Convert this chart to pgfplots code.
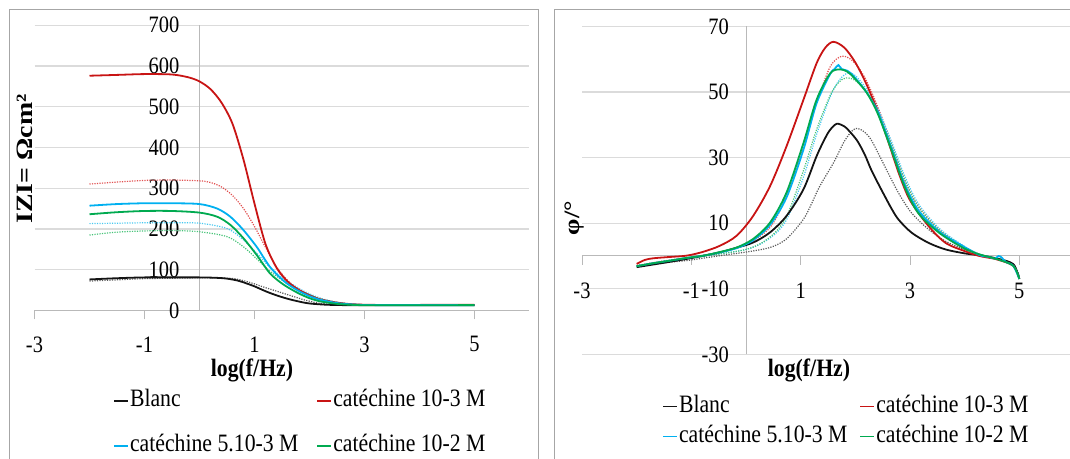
\documentclass[border=0pt]{standalone}
\usepackage{fontspec}
\setmainfont{Liberation Serif}[FakeStretch=0.87]
\newfontfamily\rotfont{Liberation Serif}[FakeStretch=1.19]
\usepackage{pgfplots}
\pgfplotsset{compat=1.18}
\definecolor{cBlk}{RGB}{20,20,20}
\definecolor{cRed}{RGB}{200,20,20}
\definecolor{cBlu}{RGB}{0,176,240}
\definecolor{cGrn}{RGB}{0,170,80}
\definecolor{cBlkD}{RGB}{90,90,90}
\definecolor{cRedD}{RGB}{225,80,80}
\definecolor{cBluD}{RGB}{70,200,240}
\definecolor{cGrnD}{RGB}{70,195,120}
\pgfplotsset{
 excelaxis/.style={
  scale only axis, axis lines=middle,
  axis line style={-, draw=gray!55, line width=1pt},
  xmin=-3, xmax=6, xtick={-3,-1,1,3,5},
  tick align=outside, major tick length=9pt,
  xtick style={draw=gray!55, line width=1pt},
  ytick style={draw=none},
  ymajorgrids, grid style={draw=gray!28, line width=1.2pt},
  hide obscured x ticks=false, hide obscured y ticks=false,
  /pgf/number format/assume math mode=true,
  /pgf/number format/1000 sep={},
  tick label style={font=\fontsize{23.5}{28}\selectfont, inner sep=0pt},
  legend columns=2,
  legend cell align=left,
  legend image code/.code={\draw[##1, solid, line width=1.8pt] (0pt,0pt) -- (14pt,0pt);},
  legend style={draw=none, fill=none, inner sep=0pt, font=\fontsize{25}{30}\selectfont,
    nodes={inner sep=1pt, text height=17pt, text depth=5pt}},
 },
 sol/.style={line width=1.8pt, smooth, tension=0.5},
 dot/.style={line width=1.2pt, dash pattern=on 1.2pt off 1.3pt, smooth, tension=0.5, forget plot},
}
\begin{document}
\begin{tikzpicture}[x=1pt,y=1pt]
\useasboundingbox (0,0) rectangle (1070,458);
\draw[gray!70, line width=1pt] (9.3,-5) -- (9.3,448) -- (538,448) -- (538,-5);
\draw[gray!70, line width=1pt] (554,-5) -- (554,448) -- (1090,448);

% ---------------- left: |Z| ----------------
\begin{axis}[excelaxis,
  at={(34.5pt,147.6pt)}, anchor=south west,
  width=495pt, height=285.2pt,
  ymin=0, ymax=700, ytick={0,100,...,700},
  xticklabel style={anchor=center, yshift=-25pt},
  yticklabel style={anchor=east, xshift=-11pt},
  legend style={at={(0.1586,-0.274)}, anchor=north west, row sep=21pt,
    /tikz/every even column/.append style={column sep=17pt}},
]
\addplot[dot, cBlkD] coordinates {(-2,72)(-1.5,75)(-1,78)(-0.5,79)(0,80)(0.3,80)(0.62,78)(0.8,73)(0.98,66)(1.15,58)(1.34,50)(1.5,43)(1.71,34)(1.9,26)(2.05,21)(2.2,17)(2.5,14)(2.8,13)(3.2,12.5)(5,13)};
\addplot[dot, cRedD] coordinates {(-2,310)(-1.5,315)(-1,319)(-0.5,320)(0,318)(0.2,314)(0.4,303)(0.6,282)(0.8,250)(1.0,206)(1.2,155)(1.4,107)(1.6,74)(1.8,52)(2.0,39)(2.2,28)(2.5,19)(2.8,15)(3.2,13.5)(5,14)};
\addplot[dot, cBluD] coordinates {(-2,213)(-1.5,214)(-1,215)(-0.5,215)(0,214)(0.5,201)(0.8,173)(1.1,132)(1.25,110)(1.41,91)(1.55,75)(1.71,62)(1.9,47)(2.1,35)(2.3,26)(2.6,18)(3,14)(5,13)};
\addplot[dot, cGrnD] coordinates {(-2,185)(-1.5,192)(-1,195)(-0.5,196)(0,193)(0.5,181)(0.8,156)(1.1,119)(1.25,100)(1.41,83)(1.55,70)(1.71,58)(1.9,44)(2.1,33)(2.3,25)(2.6,18)(3,14)(5,13)};
\addplot[sol, cBlk] coordinates {(-2,76)(-1.5,79)(-1,81)(-0.5,81)(0,81)(0.3,80)(0.5,78)(0.7,73)(0.86,66)(1.0,59)(1.22,46)(1.4,37)(1.59,29)(1.8,22)(2.0,17)(2.3,14)(2.6,13)(3,12.5)(4,12.5)(5,13)};
\addlegendentry{Blanc}
\addplot[sol, cRed] coordinates {(-2,576)(-1.5,578)(-1,580)(-0.5,579)(-0.2,572)(0,562)(0.2,543)(0.4,510)(0.6,458)(0.8,370)(1.0,262)(1.2,163)(1.4,105)(1.6,71)(1.8,51)(2.0,37)(2.2,27)(2.5,19)(2.8,15)(3.2,13.5)(4,13.5)(5,14)};
\addlegendentry{catéchine 10-3 M}
\addplot[sol, cBlu] coordinates {(-2,257)(-1.5,261)(-1,263)(-0.5,263)(0,261)(0.32,250)(0.56,230)(0.8,197)(1.04,156)(1.16,131)(1.28,107)(1.43,85)(1.59,66)(1.8,48)(2.0,35)(2.2,26)(2.5,18)(2.8,14.5)(3.2,13)(5,13)};
\addlegendentry{catéchine 5.10-3 M}
\addplot[sol, cGrn] coordinates {(-2,236)(-1.5,241)(-1,244)(-0.5,244)(0,240)(0.32,230)(0.56,210)(0.8,177)(1.04,136)(1.16,113)(1.28,91)(1.43,73)(1.59,58)(1.8,42)(2.0,30)(2.2,22)(2.5,16)(2.8,13.5)(3.2,12.5)(5,13)};
\addlegendentry{catéchine 10-2 M}
\end{axis}
\node[font=\fontsize{25}{30}\selectfont\bfseries] at (252,88) {log(f/Hz)};
\node[font=\fontsize{23.4}{28}\selectfont\rotfont\bfseries, rotate=90] at (25,299) {IZI= Ωcm²};

% ---------------- right: phase ----------------
\begin{axis}[excelaxis,
  at={(582pt,103.6pt)}, anchor=south west,
  width=492pt, height=328pt,
  ymin=-30, ymax=70, ytick={-30,-10,...,70},
  xticklabel style={anchor=center, yshift=-26pt},
  yticklabel style={anchor=east, xshift=-8pt},
  legend style={at={(0.1626,-0.1216)}, anchor=north west, row sep=6pt,
    /tikz/every even column/.append style={column sep=11pt}},
]
\addplot[dot, cBlkD] coordinates {(-2,-2.9)(-1.5,-2.0)(-1.09,-1.4)(-0.48,0.1)(0,1.2)(0.44,2.6)(0.74,5.2)(1.05,11.2)(1.2,16)(1.35,21.3)(1.6,28.4)(1.8,35)(1.95,38.3)(2.04,38.9)(2.15,38)(2.29,35.4)(2.54,27.3)(2.79,19.2)(3.03,13.1)(3.34,8.1)(3.65,4.5)(4.0,2)(4.27,0.5)(4.6,-0.8)(4.89,-2.5)(5,-7)};
\addplot[dot, cRedD] coordinates {(-2,-2.9)(-1.5,-1.5)(-1.09,-0.6)(-0.48,1.2)(0,3.5)(0.44,8.7)(0.74,18.3)(1.05,33)(1.29,46.6)(1.54,57.7)(1.75,60.9)(1.95,59.5)(2.17,54.5)(2.41,45.5)(2.66,34.3)(2.9,23.2)(3.15,15.2)(3.53,8.1)(3.97,3)(4.27,0.5)(4.6,-1)(4.89,-3)(5,-7)};
\addplot[dot, cBluD] coordinates {(-2,-3)(-1,-0.5)(0,2.0)(0.44,5.5)(0.74,11)(1.05,24)(1.29,37)(1.54,48.5)(1.7,53.5)(1.86,55.8)(2.0,55)(2.2,51)(2.41,45)(2.66,35)(2.9,24.5)(3.15,16)(3.53,8.5)(3.97,3.2)(4.27,0.5)(4.6,-1)(4.89,-2.5)(5,-6)};
\addplot[dot, cGrnD] coordinates {(-2,-3)(-1,-0.6)(0,2.0)(0.44,5.8)(0.74,12)(1.05,26)(1.29,38.5)(1.54,49)(1.7,53)(1.83,54.3)(2.0,53.5)(2.2,50)(2.41,44)(2.66,34)(2.9,23.5)(3.15,15)(3.53,8)(3.97,3)(4.27,0.5)(4.6,-1)(4.89,-2.7)(5,-7)};
\addplot[sol, cBlk] coordinates {(-2,-3.4)(-1.7,-2.6)(-1.4,-1.8)(-1.09,-0.9)(-0.8,0.0)(-0.48,1.1)(-0.2,2.4)(0.13,4.1)(0.44,7.2)(0.74,12.2)(1.05,20.3)(1.29,30.4)(1.45,36)(1.54,38.5)(1.66,40.3)(1.8,39.5)(1.92,37.5)(2.04,35.0)(2.17,31)(2.29,26.3)(2.42,22)(2.54,18.2)(2.66,14.5)(2.79,11.1)(3.03,7.1)(3.34,4)(3.65,2)(4.0,0.8)(4.27,0.2)(4.6,-0.8)(4.89,-2.5)(5,-7)};
\addlegendentry{Blanc}
\addplot[sol, cRed] coordinates {(-2,-2.4)(-1.85,-1.2)(-1.7,-0.7)(-1.4,-0.3)(-1.09,0.1)(-0.8,1.2)(-0.48,3.1)(-0.17,6.2)(0.13,12.2)(0.44,21.3)(0.74,33.4)(1.05,47.6)(1.29,58.7)(1.45,63.5)(1.6,65.3)(1.8,63.5)(2.0,59)(2.2,52.5)(2.4,44.5)(2.6,35)(2.8,25)(3.0,17)(3.34,9.1)(3.65,4.0)(4.0,1.5)(4.27,0)(4.58,-1)(4.89,-3)(5,-7)};
\addlegendentry{catéchine 10-3 M}
\addplot[sol, cBlu] coordinates {(-2,-3.1)(-1.7,-2.2)(-1.39,-1.4)(-1.09,-0.6)(-0.78,0.1)(-0.48,1.1)(-0.17,2.4)(0.13,4.8)(0.44,9.5)(0.74,17.8)(1.05,32.4)(1.29,46.5)(1.54,55.5)(1.62,57.0)(1.69,58.2)(1.75,57.0)(1.85,56.5)(1.96,55)(2.2,50)(2.41,44)(2.66,33)(2.9,22)(3.15,14)(3.53,7.5)(3.97,3)(4.27,0.3)(4.45,-0.3)(4.55,-0.8)(4.62,0.0)(4.68,-0.5)(4.75,-1.8)(4.89,-3)(5,-7)};
\addlegendentry{catéchine 5.10-3 M}
\addplot[sol, cGrn] coordinates {(-2,-3.1)(-1.7,-2.2)(-1.39,-1.4)(-1.09,-0.6)(-0.78,0.1)(-0.48,1.2)(-0.17,2.6)(0.13,5.2)(0.44,10.2)(0.74,19.3)(1.05,34.4)(1.29,47.6)(1.54,55.7)(1.72,56.9)(1.85,56.2)(1.96,54.6)(2.2,50)(2.41,43.4)(2.66,32.3)(2.9,21.2)(3.15,13.1)(3.53,7.1)(3.97,2.5)(4.27,0.5)(4.6,-1)(4.89,-3)(5,-7)};
\addlegendentry{catéchine 10-2 M}
\end{axis}
\node[font=\fontsize{25}{30}\selectfont\bfseries] at (809,88) {log(f/Hz)};
\node[font=\fontsize{22}{26}\selectfont\rotfont\bfseries, rotate=90] at (575,240) {φ/°};
\end{tikzpicture}
\end{document}
